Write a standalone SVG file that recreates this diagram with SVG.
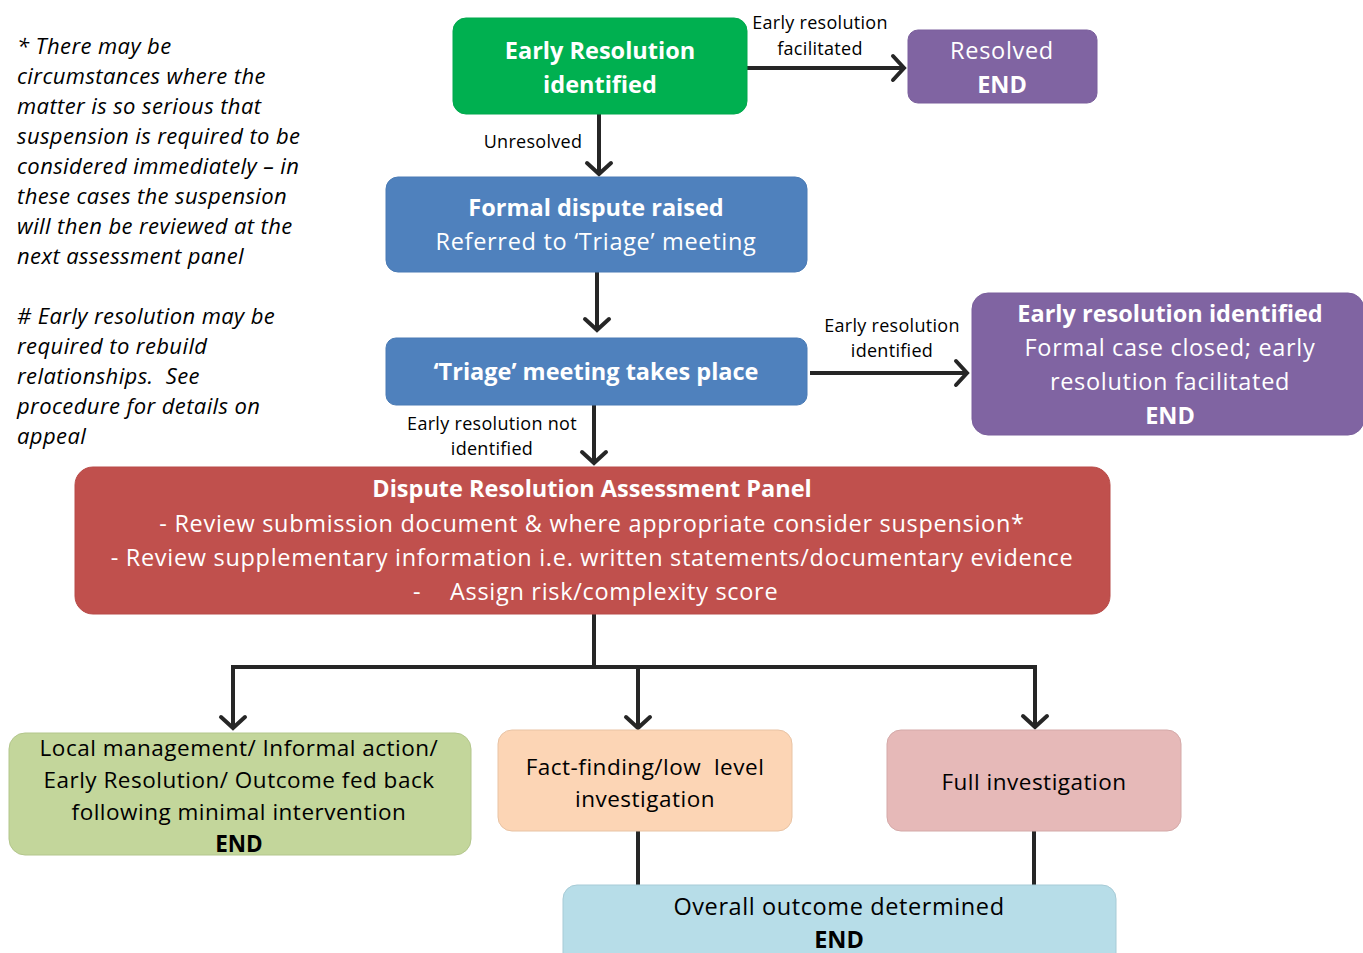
<svg xmlns="http://www.w3.org/2000/svg" width="1363" height="953" viewBox="0 0 1363 953">
<defs>
<marker id="arr" markerUnits="userSpaceOnUse" viewBox="-16 -16 32 32" refX="0" refY="0" markerWidth="32" markerHeight="32" orient="auto">
<path d="M-11,-12 L0,0 L-11,12" fill="none" stroke="#262626" stroke-width="4" stroke-linecap="round" stroke-linejoin="miter"/>
</marker>
</defs>
<style>
text{font-family:"Open Sans","Noto Sans","Liberation Sans",sans-serif;white-space:pre;}
.w{fill:#fff;text-anchor:middle;font-size:23.5px;letter-spacing:0.7px;}
.k{fill:#000;text-anchor:middle;font-size:22.5px;letter-spacing:0.5px;}
.b{font-weight:bold;letter-spacing:0;}
.lbl{fill:#000;text-anchor:middle;font-size:18px;letter-spacing:0.3px;}
.note{fill:#000;font-size:22px;font-style:italic;letter-spacing:0.4px;}
.con{fill:none;stroke:#262626;stroke-width:4;}
.arr{marker-end:url(#arr);}
</style>
<rect width="1363" height="953" fill="#fff"/>

<g id="notes">
<text class="note" x="17" y="54">* There may be</text>
<text class="note" x="17" y="84">circumstances where the</text>
<text class="note" x="17" y="114">matter is so serious that</text>
<text class="note" x="17" y="144">suspension is required to be</text>
<text class="note" x="17" y="174">considered immediately – in</text>
<text class="note" x="17" y="204">these cases the suspension</text>
<text class="note" x="17" y="234">will then be reviewed at the</text>
<text class="note" x="17" y="264">next assessment panel</text>
<text class="note" x="17" y="324"># Early resolution may be</text>
<text class="note" x="17" y="354">required to rebuild</text>
<text class="note" x="17" y="384">relationships.&#160; See</text>
<text class="note" x="17" y="414">procedure for details on</text>
<text class="note" x="17" y="444">appeal</text>
</g>

<g id="connectors">
<line class="con arr" x1="747" y1="68" x2="904" y2="68"/>
<line class="con arr" x1="599" y1="114" x2="599" y2="174"/>
<line class="con arr" x1="597" y1="272" x2="597" y2="330"/>
<line class="con arr" x1="810" y1="373" x2="967" y2="373"/>
<line class="con arr" x1="594" y1="405" x2="594" y2="463"/>
<polyline class="con" points="594,614 594,667"/>
<polyline class="con" points="233,667 1035,667"/>
<line class="con arr" x1="233" y1="665" x2="233" y2="728"/>
<line class="con arr" x1="638" y1="667" x2="638" y2="728"/>
<line class="con arr" x1="1035" y1="665" x2="1035" y2="727"/>
<line class="con" x1="638" y1="831" x2="638" y2="886"/>
<line class="con" x1="1034" y1="831" x2="1034" y2="886"/>
<text class="lbl" x="820" y="29">Early resolution</text>
<text class="lbl" x="820" y="55">facilitated</text>
<text class="lbl" x="533" y="148">Unresolved</text>
<text class="lbl" x="892" y="332">Early resolution</text>
<text class="lbl" x="892" y="357">identified</text>
<text class="lbl" x="492" y="430">Early resolution not</text>
<text class="lbl" x="492" y="455">identified</text>
</g>

<g id="early-resolution">
<rect x="453" y="18" width="294" height="96" rx="13" fill="#00B050" stroke="#00A84C" stroke-width="1"/>
<text class="w b" x="600" y="59">Early Resolution</text>
<text class="w b" x="600" y="93">identified</text>
</g>

<g id="resolved">
<rect x="908" y="30" width="189" height="73" rx="10" fill="#8064A2" stroke="#7a5f9c" stroke-width="1"/>
<text class="w" x="1002" y="59">Resolved</text>
<text class="w b" x="1002" y="93">END</text>
</g>

<g id="formal-dispute">
<rect x="386" y="177" width="421" height="95" rx="12" fill="#4F81BD" stroke="#4a7bb5" stroke-width="1"/>
<text class="w b" x="596" y="216">Formal dispute raised</text>
<text class="w" x="596" y="250">Referred to ‘Triage’ meeting</text>
</g>

<g id="triage">
<rect x="386" y="338" width="421" height="67" rx="10" fill="#4F81BD" stroke="#4a7bb5" stroke-width="1"/>
<text class="w b" x="596" y="380">‘Triage’ meeting takes place</text>
</g>

<g id="early-resolution-identified">
<rect x="972" y="293" width="392" height="142" rx="16" fill="#8064A2" stroke="#7a5f9c" stroke-width="1"/>
<text class="w b" x="1170" y="322">Early resolution identified</text>
<text class="w" x="1170" y="356">Formal case closed; early</text>
<text class="w" x="1170" y="390">resolution facilitated</text>
<text class="w b" x="1170" y="424">END</text>
</g>

<g id="panel">
<rect x="75" y="467" width="1035" height="147" rx="18" fill="#C0504D" stroke="#b84b48" stroke-width="1"/>
<text class="w b" x="592" y="497">Dispute Resolution Assessment Panel</text>
<text class="w" x="592" y="532">- Review submission document &amp; where appropriate consider suspension*</text>
<text class="w" x="592" y="566">- Review supplementary information i.e. written statements/documentary evidence</text>
<text class="w" x="413" y="600" style="text-anchor:start">-</text>
<text class="w" x="450" y="600" style="text-anchor:start">Assign risk/complexity score</text>
</g>

<g id="local-management">
<rect x="9" y="733" width="462" height="122" rx="16" fill="#C3D69B" stroke="#b3c68c" stroke-width="1"/>
<text class="k" x="239" y="756">Local management/ Informal action/</text>
<text class="k" x="239" y="788">Early Resolution/ Outcome fed back</text>
<text class="k" x="239" y="820">following minimal intervention</text>
<text class="k b" x="239" y="852">END</text>
</g>

<g id="fact-finding">
<rect x="498" y="730" width="294" height="101" rx="14" fill="#FCD5B5" stroke="#e8c3a4" stroke-width="1"/>
<text class="k" x="645" y="775">Fact-finding/low&#160; level</text>
<text class="k" x="645" y="807">investigation</text>
</g>

<g id="full-investigation">
<rect x="887" y="730" width="294" height="101" rx="14" fill="#E6B9B8" stroke="#d4a9a8" stroke-width="1"/>
<text class="k" x="1034" y="790">Full investigation</text>
</g>

<g id="overall-outcome">
<rect x="563" y="885" width="553" height="90" rx="14" fill="#B7DDE8" stroke="#a7cbd6" stroke-width="1"/>
<text class="k" x="839" y="915" style="font-size:23.5px;letter-spacing:0.6px">Overall outcome determined</text>
<text class="k b" x="839" y="948" style="font-size:23.5px">END</text>
</g>
</svg>
